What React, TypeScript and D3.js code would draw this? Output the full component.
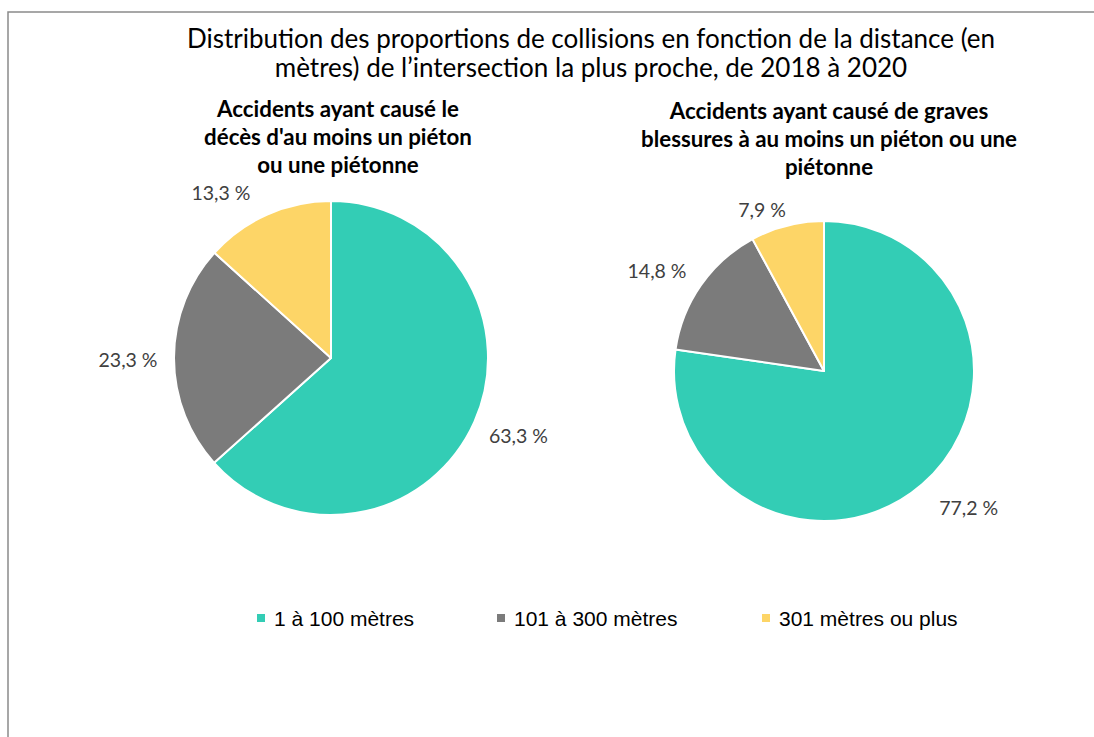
import React from "react";
import * as d3 from "d3";

const categories = ["1 à 100 mètres", "101 à 300 mètres", "301 mètres ou plus"];
const decesValues = [63.3, 23.3, 13.3];
const blessuresValues = [77.2, 14.8, 7.9];
const colors = ["#33CDB5", "#7B7B7B", "#FDD567"];

const titleLines = [
  "Distribution des proportions de collisions en fonction de la distance (en",
  "mètres) de l’intersection la plus proche, de 2018 à 2020",
];
const decesTitle = ["Accidents ayant causé le", "décès d'au moins un piéton", "ou une piétonne"];
const blessuresTitle = [
  "Accidents ayant causé de graves",
  "blessures à au moins un piéton ou une",
  "piétonne",
];

const W = 1094;
const H = 737;
const labelFont = "Lato, 'Open Sans', sans-serif";
const legendPos = [261, 501, 766]; // square centres, Excel lays these out by text width

// label nudges (px) where Excel's best-fit moved a label away from the slice middle
const pies = [
  { values: decesValues, title: decesTitle, cx: 331, cy: 358, r: 157, titleX: 338, titleY: 117, nudge: [[3, -5], [-1, 2], [-28, 19]] },
  { values: blessuresValues, title: blessuresTitle, cx: 824, cy: 371, r: 150, titleX: 829, titleY: 119, nudge: [[17, -11], [-7, 11], [-14, 27]] },
];

const fmt = (v: number) => d3.format(".1f")(v).replace(".", ",") + " %";

function Pie({ cfg }: { cfg: (typeof pies)[number] }) {
  const pie = d3.pie<number>().sort(null).value((d) => d);
  const arcs = pie(cfg.values);
  const arc = d3.arc<d3.PieArcDatum<number>>().innerRadius(0).outerRadius(cfg.r);
  const labelArc = d3
    .arc<d3.PieArcDatum<number>>()
    .innerRadius(cfg.r + 45)
    .outerRadius(cfg.r + 45);

  return (
    <g>
      <g transform={`translate(${cfg.cx},${cfg.cy})`}>
        {arcs.map((a, i) => (
          <path key={i} d={arc(a) || ""} fill={colors[i]} stroke="#fff" strokeWidth={2} strokeLinejoin="round" />
        ))}
        {arcs.map((a, i) => {
          const [x, y] = labelArc.centroid(a);
          return (
            <text
              key={i}
              x={x + cfg.nudge[i][0]}
              y={y + cfg.nudge[i][1]}
              textAnchor="middle"
              dominantBaseline="central"
              fontFamily={labelFont}
              fontSize={19.5}
              fill="#404040"
            >
              {fmt(a.data)}
            </text>
          );
        })}
      </g>
      {cfg.title.map((t, i) => (
        <text
          key={i}
          x={cfg.titleX}
          y={cfg.titleY + i * 28}
          textAnchor="middle"
          fontFamily={labelFont}
          fontWeight="bold"
          fontSize={22.3}
          fill="#000"
        >
          {t}
        </text>
      ))}
    </g>
  );
}

export default function App() {
  return (
    <svg width={W} height={H} style={{ position: "absolute", left: 0, top: 0, background: "#fff" }}>
      <rect x={8} y={12} width={W + 20} height={H + 20} fill="#fff" stroke="#8a8a8a" strokeWidth={1.5} />
      {titleLines.map((t, i) => (
        <text key={i} x={591} y={48 + i * 29} textAnchor="middle" fontFamily={labelFont} fontSize={26} fill="#000">
          {t}
        </text>
      ))}
      {pies.map((p, i) => (
        <Pie key={i} cfg={p} />
      ))}
      {categories.map((c, i) => (
        <g key={c} transform={`translate(${legendPos[i]},618)`}>
          <rect x={-4} y={-4} width={8} height={8} fill={colors[i]} />
          <text x={13} y={0} dominantBaseline="central" fontFamily="'Liberation Sans', Arial, sans-serif" fontSize={21} fill="#000">
            {c}
          </text>
        </g>
      ))}
    </svg>
  );
}
